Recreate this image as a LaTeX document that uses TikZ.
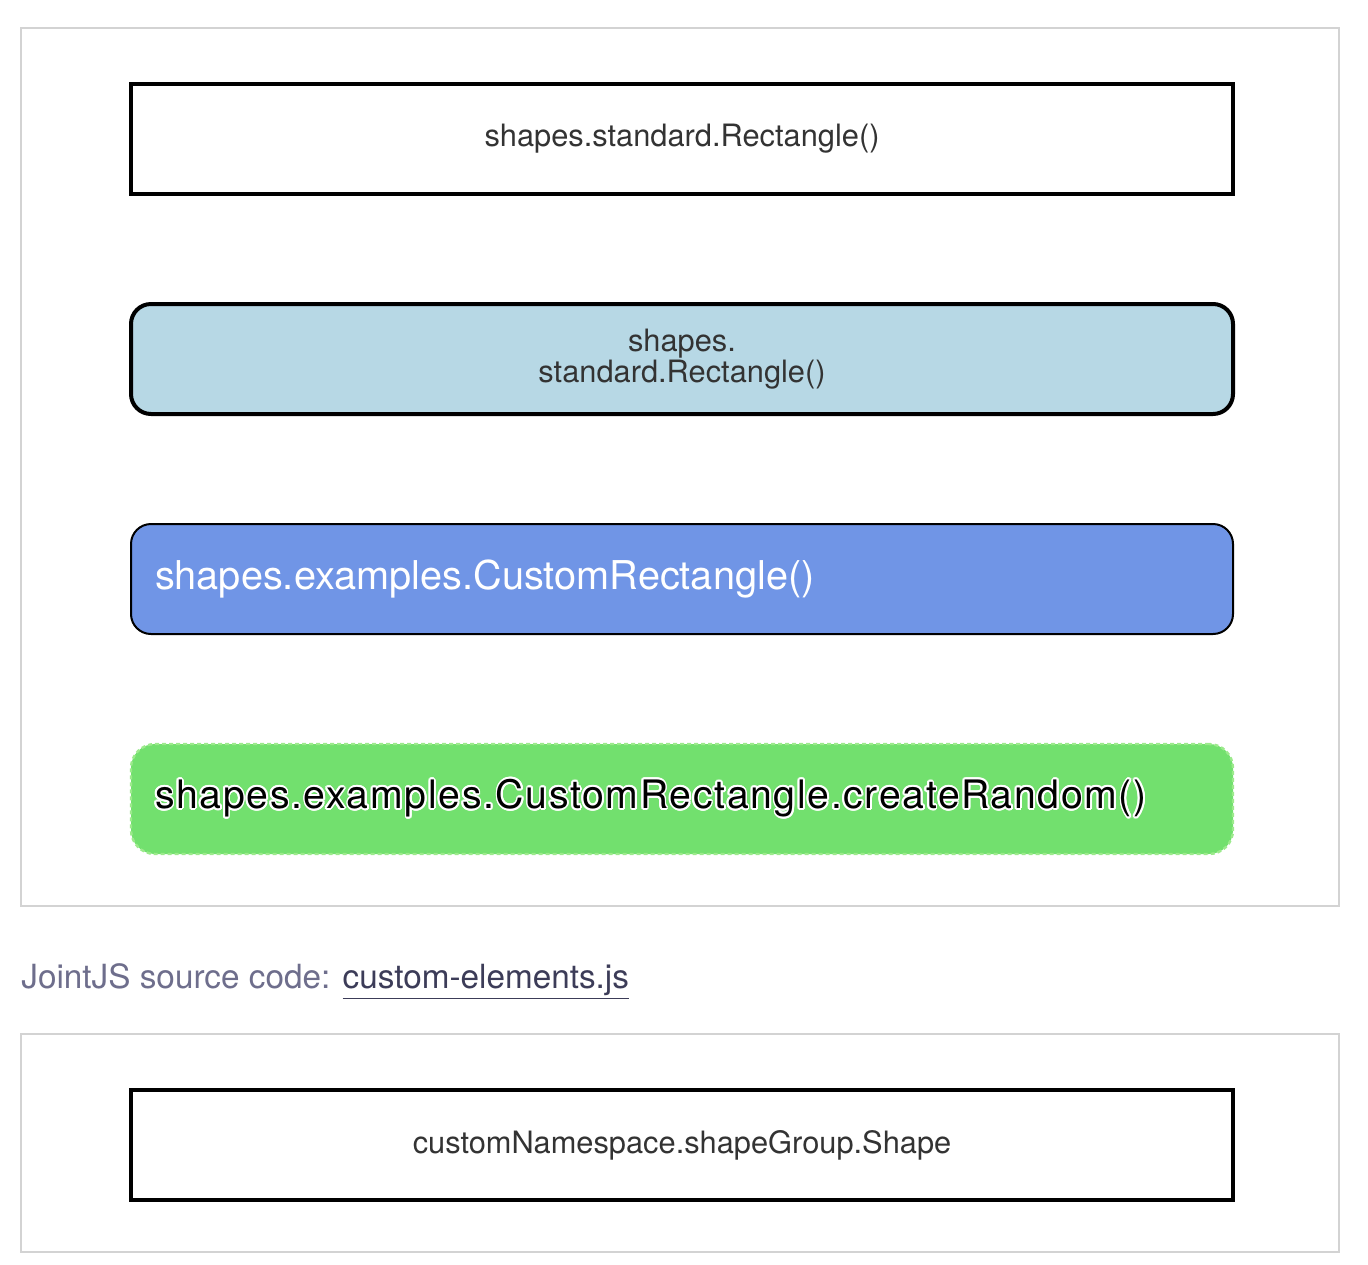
\documentclass[tikz,border=0pt]{standalone}
\usepackage{fontspec}
\setmainfont{TeX Gyre Heros}
\usepackage{contour}
\contourlength{0.9pt}
\usepackage{tikz}
\usetikzlibrary{positioning}
\definecolor{panelgray}{HTML}{D3D3D3}
\definecolor{textgray}{HTML}{333333}
\definecolor{stdblue}{HTML}{B7D8E5}
\definecolor{customblue}{HTML}{7095E6}
\definecolor{randomgreen}{HTML}{72E06E}
\definecolor{randomedge}{HTML}{9CEA8C}
\definecolor{captiongray}{HTML}{6E6E8C}
\definecolor{linkgray}{HTML}{3C3C58}

\tikzset{
	panel/.style={draw=panelgray, line width=1pt},
	elem/.style={minimum width=551pt, minimum height=55pt, outer sep=0pt, text=textgray, font=\fontsize{15.4}{15.6}\selectfont},
	stdrect/.style={elem, draw=black, line width=2pt, fill=white},
	stdround/.style={elem, draw=black, line width=2pt, fill=stdblue, rounded corners=10pt, align=center},
	customrect/.style={elem, draw=black, line width=1pt, fill=customblue, rounded corners=10pt,
		text width=527pt, align=left, inner xsep=12pt, text=white, font=\fontsize{19.85}{20}\selectfont},
	randomrect/.style={elem, draw=randomedge, line width=1.2pt, dash pattern=on 2pt off 1.5pt, fill=randomgreen, rounded corners=12pt,
		text width=527pt, align=left, inner xsep=12pt, text=black, font=\fontsize{19.6}{20}\selectfont\addfontfeature{LetterSpace=4.2}}
}

\begin{document}
\begin{tikzpicture}[x=1pt, y=1pt]

\useasboundingbox (0,0) rectangle (684,-632);

% upper paper
\draw[panel] (10.5,-14) rectangle (669.5,-453);

\node[stdrect] (standard) at (341,-69.5) {shapes.standard.Rectangle()};
\node[stdround, below=55pt of standard] (standardblue) {shapes.\\standard.Rectangle()};
\node[customrect, below=55pt of standardblue] (custom) {shapes.examples.CustomRectangle()};
\node[randomrect, below=55pt of custom] (random) {\contour{white}{shapes.examples.CustomRectangle.createRandom()}};

% caption
\node[anchor=base west, inner sep=0pt, font=\fontsize{16.65}{17}\selectfont, text=captiongray] (caption) at (10.5,-494)
	{JointJS source code: \textcolor{linkgray}{\underline{custom-elements.js}}};

% lower paper
\draw[panel] (10.5,-517) rectangle (669.5,-626);

\node[stdrect] (namespace) at (341,-572.5) {customNamespace.shapeGroup.Shape};

\end{tikzpicture}
\end{document}
